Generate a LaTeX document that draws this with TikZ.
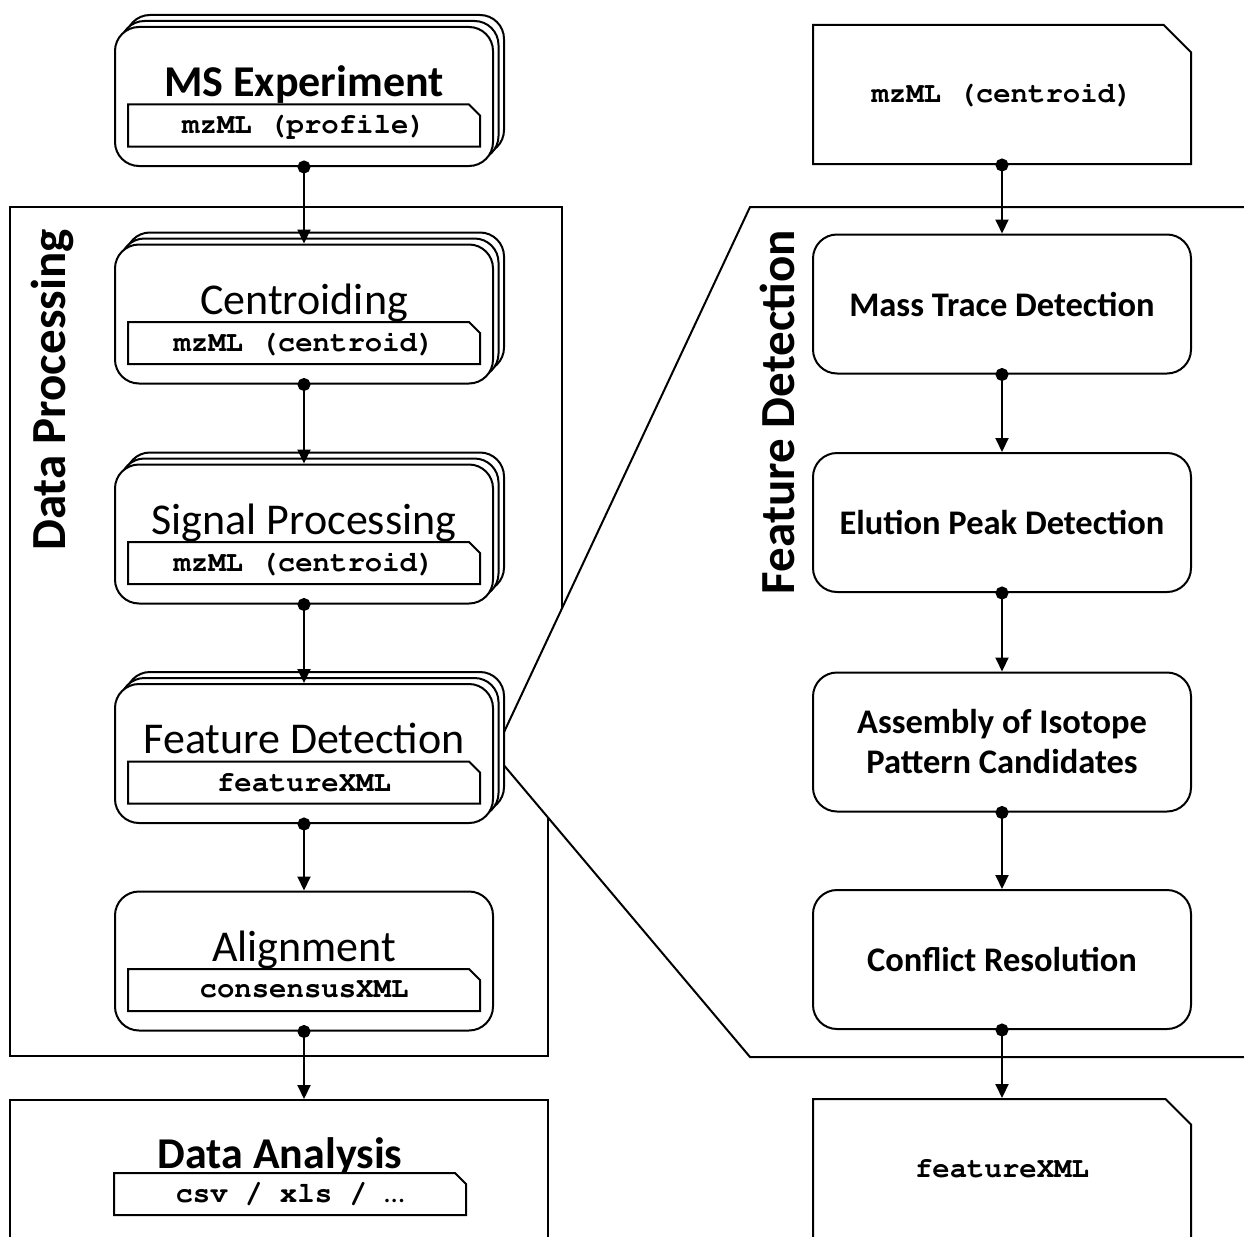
\documentclass[tikz,border=0pt]{standalone}
\usepackage[T1]{fontenc}
\usepackage{fontspec}
\setmainfont{Carlito}
\usetikzlibrary{arrows.meta,shadows,shapes.misc,backgrounds}

\newcommand{\filefont}{\fontencoding{T1}\fontfamily{pcr}\fontseries{b}\selectfont}

\tikzset{
  box/.style={draw, line width=2pt, fill=white, rounded corners=24pt,
    minimum width=378pt, minimum height=139pt, inner sep=0pt},
  stack/.style={box,
    copy shadow={shadow xshift=11pt, shadow yshift=12pt},
    copy shadow={shadow xshift=5.5pt, shadow yshift=6pt}},
  tag/.style={draw, line width=2pt, fill=white, chamfered rectangle,
    chamfered rectangle corners=north east, chamfered rectangle sep=5.5pt,
    minimum width=352pt, minimum height=42pt, inner sep=0pt,
    font=\fontsize{29}{34}\filefont},
  file/.style={tag, chamfered rectangle sep=16pt,
    minimum width=378pt, minimum height=139pt},
  heading/.style={anchor=base, font=\fontsize{44}{53}\selectfont},
  task/.style={box, align=center, font=\fontsize{34.5}{40}\selectfont\bfseries},
  sidelabel/.style={anchor=base, rotate=90, font=\fontsize{49}{58}\selectfont\bfseries},
  flow/.style={line width=2pt, {Circle[length=13pt]}-{Triangle[length=14pt,width=13pt]},
    shorten <=-6.5pt}
}

\begin{document}
\begin{tikzpicture}[x=1pt, y=-1pt]
\useasboundingbox (0,0) rectangle (1244,1236);
\clip (0,0) rectangle (1244,1236);

% left column: processing chain
\node[stack] (ms) at (304,96.5) {};
\node[heading, font=\fontsize{44}{53}\selectfont\bfseries] (mstitle) at (ms.center) {MS Experiment};
\node[tag] (msfile) at ([yshift=-29pt]ms.center) {mzML (profile)};

\node[stack] (cent) at (304,314) {};
\node[heading] (centtitle) at (cent.center) {Centroiding};
\node[tag] (centfile) at ([yshift=-29pt]cent.center) {mzML (centroid)};

\node[stack] (sig) at (304,534) {};
\node[heading] (sigtitle) at (sig.center) {Signal Processing};
\node[tag] (sigfile) at ([yshift=-29pt]sig.center) {mzML (centroid)};

\node[stack] (feat) at (304,753.5) {};
\node[heading] (feattitle) at (feat.center) {Feature Detection};
\node[tag] (featfile) at ([yshift=-29pt]feat.center) {featureXML};

\node[box] (align) at (304,961) {};
\node[heading] (aligntitle) at (align.center) {Alignment};
\node[tag] (alignfile) at ([yshift=-29pt]align.center) {consensusXML};

\node[draw, line width=2pt, fill=white, minimum width=538pt, minimum height=160pt] (ana) at (279,1180) {};
\node[heading, font=\fontsize{44}{53}\selectfont\bfseries] (anatitle) at (280,1168) {Data Analysis};
\node[tag] (anafile) at (290,1194) {csv / xls / {\fontencoding{TU}\rmfamily\mdseries\selectfont …}};

\node[sidelabel] (dplabel) at (65,390) {Data Processing};

% right column: feature detection steps
\node[file] (fdin) at (1002,94.5) {mzML (centroid)};
\node[task] (mass) at (1002,304) {Mass Trace Detection};
\node[task] (elu) at (1002,522.5) {Elution Peak Detection};
\node[task] (iso) at (1002,742) {Assembly of Isotope\\Pattern Candidates};
\node[task] (res) at (1002,959.5) {Conflict Resolution};
\node[file] (fdout) at (1002,1168.5) {featureXML};

\node[sidelabel] (fdlabel) at (794,412) {Feature Detection};

\draw[flow] (ms.south) -- (cent.north);
\draw[flow] (cent.south) -- (sig.north);
\draw[flow] (sig.south) -- (feat.north);
\draw[flow] (feat.south) -- (align.north);
\draw[flow] (align.south) -- (align.south |- ana.north);

\draw[flow] (fdin.south) -- (mass.north);
\draw[flow] (mass.south) -- (elu.north);
\draw[flow] (elu.south) -- (iso.north);
\draw[flow] (iso.south) -- (res.north);
\draw[flow] (res.south) -- (fdout.north);

\begin{scope}[on background layer]
  \draw[line width=2pt] (562,640) -- (562,207) -- (10,207) -- (10,1056) -- (548,1056) -- (548,780);
  \filldraw[line width=2pt, fill=white] (feat.east) -- (750,207) -- (1260,207)
    -- (1260,1057) -- (750,1057) -- cycle;
\end{scope}
\end{tikzpicture}
\end{document}
